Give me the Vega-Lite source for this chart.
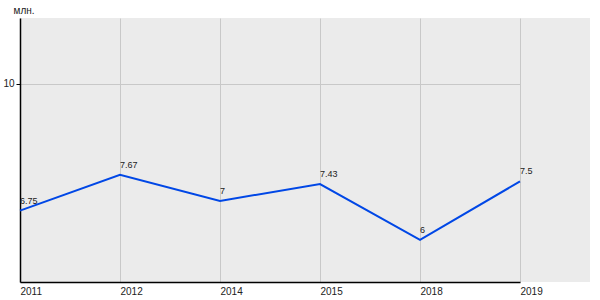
{
  "$schema": "https://vega.github.io/schema/vega-lite/v6.json",
  "width": 570,
  "height": 264,
  "autosize": {"type": "none"},
  "padding": {"left": 20, "top": 18, "right": 10, "bottom": 18},
  "background": "white",
  "config": {
    "view": {"fill": "#ebebeb", "stroke": null},
    "font": "Liberation Sans"
  },
  "data": {
    "values": [
      {"year": "2011", "value": 6.75, "label": "6.75"},
      {"year": "2012", "value": 7.67, "label": "7.67"},
      {"year": "2014", "value": 7, "label": "7"},
      {"year": "2015", "value": 7.43, "label": "7.43"},
      {"year": "2018", "value": 6, "label": "6"},
      {"year": "2019", "value": 7.5, "label": "7.5"}
    ]
  },
  "encoding": {
    "x": {
      "field": "year",
      "type": "ordinal",
      "sort": null,
      "scale": {"type": "point", "range": [0, 500], "padding": 0},
      "axis": {
        "title": null,
        "labelAngle": 0,
        "labelAlign": "left",
        "labelPadding": 4,
        "labelFontSize": 10,
        "labelColor": "#222",
        "ticks": false,
        "domainColor": "#000",
        "domainWidth": 1.5,
        "grid": true,
        "gridColor": "#c8c8c8",
        "gridWidth": 1
      }
    },
    "y": {
      "field": "value",
      "type": "quantitative",
      "scale": {"domain": [4.92, 11.69], "nice": false, "zero": false},
      "axis": {
        "values": [10],
        "title": "млн.",
        "titleAngle": 0,
        "titleAlign": "left",
        "titleBaseline": "bottom",
        "titleX": -7,
        "titleY": -3,
        "titleFontSize": 10,
        "titleFontWeight": "normal",
        "titleColor": "#222",
        "labelFontSize": 10,
        "labelColor": "#222",
        "labelPadding": 2,
        "tickSize": 4,
        "tickColor": "#000",
        "domainColor": "#000",
        "domainWidth": 1.5,
        "grid": true,
        "gridColor": "#c8c8c8",
        "gridWidth": 1
      }
    }
  },
  "layer": [
    {
      "mark": {"type": "line", "color": "#0047e6", "strokeWidth": 2}
    },
    {
      "mark": {"type": "text", "align": "left", "baseline": "bottom", "dy": -5, "fontSize": 9, "color": "#222"},
      "encoding": {"text": {"field": "label"}}
    }
  ]
}
